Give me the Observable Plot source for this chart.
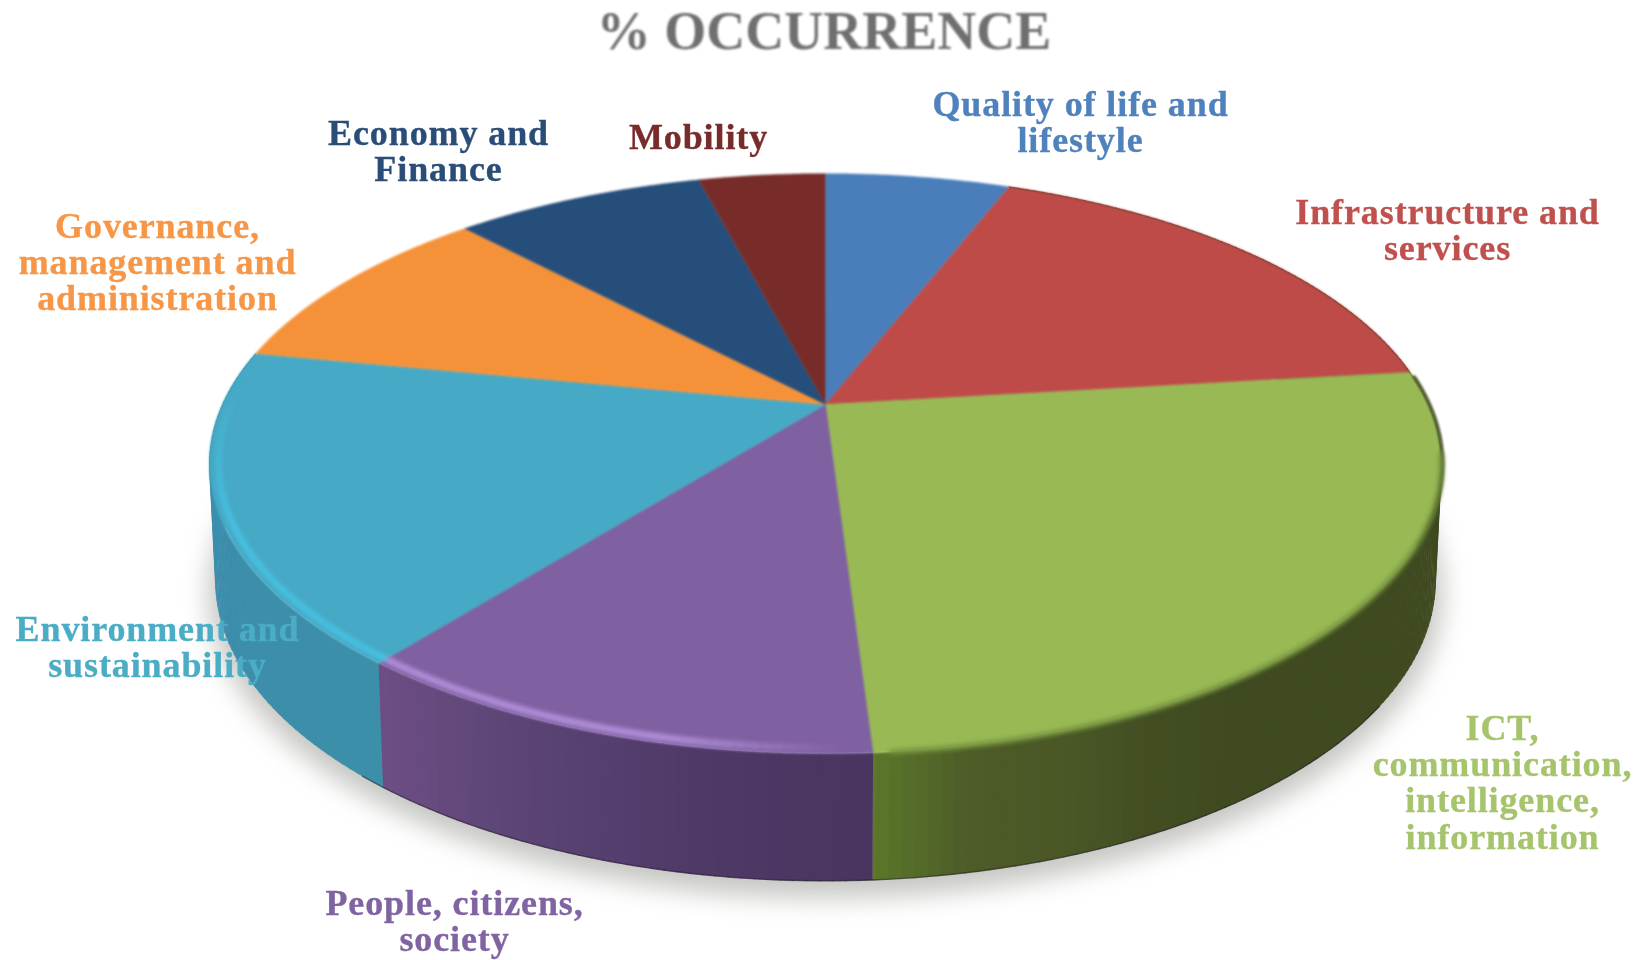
<!DOCTYPE html>
<html>
<head>
<meta charset="utf-8">
<script src="https://cdn.jsdelivr.net/npm/d3@7"></script>
<script src="https://cdn.jsdelivr.net/npm/@observablehq/plot@0.6"></script>
<style>
  html, body { margin: 0; padding: 0; background: #fff; overflow: hidden; }
  #title { height: 60px; text-align: center; font: bold 54px/62px "Liberation Serif", serif;
           color: #6f6f6f; filter: blur(0.8px); width: 1648px; }
  svg { display: block; }
</style>
</head>
<body>
<div id="title">% OCCURRENCE</div>
<div id="chart"></div>
<script>
// ---- data ----
const categories = ["Quality of life and lifestyle", "Infrastructure and services",
  "ICT, communication, intelligence, information", "People, citizens, society",
  "Environment and sustainability", "Governance, management and administration",
  "Economy and Finance", "Mobility"];
const shares = [5.9, 17.2, 25.9, 11.7, 17.35, 9.9, 8.0, 4.05];

// ---- styles ----
const faceColors = ["#4a7ebb", "#be4b48", "#98b954", "#7f60a0", "#46a9c5", "#f59239", "#264e7b", "#772c2a"];
const textColors = ["#4f81bd", "#c0504d", "#a6c46c", "#8064a2", "#4bacc6", "#f79646", "#2a4d78", "#772c2a"];
const labelLines = ["Quality of life and\nlifestyle", "Infrastructure and\nservices",
  "ICT,\ncommunication,\nintelligence,\ninformation", "People, citizens,\nsociety",
  "Environment and\nsustainability", "Governance,\nmanagement and\nadministration",
  "Economy and\nFinance", "Mobility"];
const labelX = [1080, 1447, 1502, 454, 157, 157, 438, 698];
const labelY = [122, 230, 782, 921, 647, 262, 151, 137];
const wallRamps = {
  1: ["#333d1a", "#333d1a"],
  2: ["#3a4420", "#3f4a20", "#3f4a20", "#3f4a20", "#3f4a20", "#3f4a20", "#3f4a20", "#3f4a20", "#3f4a20", "#424e22", "#4a5726", "#4e5c28", "#5c7a2a"],
  3: ["#4a3560", "#4f3a68", "#5c4576", "#6f4e85"],
  4: ["#3c8fa9", "#3c8dab", "#3d92b2"]
};
const highlights = { 3: "#b08dd8", 4: "#47bfe0" };

// ---- camera of the disc ----
const tilt = 0.2043;
const levels = [
  { xf: 603, yf: 278, cy: 404 },
  { xf: 597, yf: 287.5, cy: 519 }
];
const cx = 825;
const titleH = 60, W = 1646, H = 960;

function project(t, r, level) {
  const xf = levels[0].xf + (levels[1].xf - levels[0].xf) * level;
  const yf = levels[0].yf + (levels[1].yf - levels[0].yf) * level;
  const cy = levels[0].cy + (levels[1].cy - levels[0].cy) * level;
  const X = r * Math.sin(t), Y = r * Math.cos(t), w = 1 + tilt * Y;
  return { x: cx + xf * X / w, y: cy - yf * Y / w };
}
const rad = d => d * Math.PI / 180;

const total = d3.sum(shares);
let acc = 0;
const slices = shares.map((v, i) => {
  const a0 = acc / total * 360; acc += v;
  return { i, a0, a1: acc / total * 360 };
});

// top face polygons
const facePts = slices.flatMap(s => {
  const pts = [{ ...project(0, 0, 0), i: s.i, color: faceColors[s.i] }];
  for (let a = s.a0; a < s.a1; a += 0.5) pts.push({ ...project(rad(a), 1, 0), i: s.i, color: faceColors[s.i] });
  pts.push({ ...project(rad(s.a1), 1, 0), i: s.i, color: faceColors[s.i] });
  return pts;
});

// wall strips, back to front
const wallPts = [];
slices.forEach(s => {
  const ramp = wallRamps[s.i];
  if (!ramp) return;
  const col = d3.scaleLinear().domain(d3.range(ramp.length).map(j => j / (ramp.length - 1))).range(ramp).interpolate(d3.interpolateRgb);
  for (let a = s.a0; a < s.a1; a += 1) {
    const b = Math.min(a + 1.15, s.a1), f = (a - s.a0) / (s.a1 - s.a0), color = col(f), id = s.i + "-" + a;
    [project(rad(a), 1, 0), project(rad(b), 1, 0), project(rad(b), 1, 1), project(rad(a), 1, 1)]
      .forEach(p => wallPts.push({ ...p, id, color }));
  }
});

// soft shadow below the disc
const shadowPts = d3.range(0, 361, 2).map(a => project(rad(a), 1.012, 1.09));
const bottomEdge = d3.range(125, 222, 1).map(a => project(rad(a), 1, 1));

// darker outline along the right of the rim, soft green edge above the wall
const rimDark = d3.range(slices[1].a1 + 1, 118, 1).map(a => project(rad(a), 1.002, 0));
const rimSoft = d3.range(100, slices[2].a1 - 0.5, 1).map(a => project(rad(a), 1, 0));

// bevel highlight on the rim, fading at its two ends
const fade = d3.scaleLinear().domain([178, 192, 245, 275]).range([0, 1, 1, 0]).clamp(true);
const highlightPts = Object.keys(highlights).flatMap(k => {
  const s = slices[+k];
  return d3.range(s.a0, s.a1 - 0.5, 1).flatMap(a => [a, a + 1.1].map(b => ({
    ...project(rad(Math.min(b, s.a1)), 0.986, 0), seg: k + "-" + a, color: highlights[k], op: fade(a)
  })));
});

const labels = categories.map((c, i) => ({ name: labelLines[i], x: labelX[i], y: labelY[i], color: textColors[i] }));

const chart = Plot.plot({
  width: W, height: H - titleH,
  marginTop: 0, marginRight: 0, marginBottom: 0, marginLeft: 0,
  x: { domain: [0, W], range: [0, W], axis: null },
  y: { domain: [titleH, H], range: [0, H - titleH], axis: null },
  color: { type: "identity" },
  opacity: { type: "identity" },
  style: { background: "#fff", overflow: "hidden", letterSpacing: "0.9px" },
  marks: [
    Plot.line(shadowPts, { x: "x", y: "y", fill: "#8b8b86", stroke: "none", fillOpacity: 0.5, imageFilter: "blur(13px)" }),
    Plot.line(wallPts, { x: "x", y: "y", z: "id", fill: "color", stroke: "color", strokeWidth: 0.6, imageFilter: "blur(0.5px)" }),
    Plot.line(bottomEdge, { x: "x", y: "y", stroke: "#1d1526", strokeWidth: 1.4, strokeOpacity: 0.5, imageFilter: "blur(0.5px)" }),
    Plot.line(facePts, { x: "x", y: "y", z: "i", fill: "color", stroke: "color", strokeWidth: 0.5, imageFilter: "blur(0.8px)" }),
    Plot.line(rimDark, { x: "x", y: "y", stroke: "#3f4a20", strokeWidth: 3, imageFilter: "blur(1px)" }),
    Plot.line(rimSoft, { x: "x", y: "y", stroke: "#73903d", strokeWidth: 5, imageFilter: "blur(2.2px)" }),
    Plot.line(highlightPts, { x: "x", y: "y", z: "seg", stroke: "color", strokeOpacity: "op", strokeWidth: 7, strokeLinecap: "butt", imageFilter: "blur(2.2px)" }),
    Plot.text(labels, { x: "x", y: "y", text: "name", fill: "color", stroke: "color", strokeWidth: 0.35, fontFamily: "Liberation Serif", fontWeight: "bold",
      fontSize: 36, lineHeight: 1.01, lineAnchor: "middle", textAnchor: "middle", imageFilter: "blur(0.7px)" })
  ]
});
document.getElementById("chart").append(chart);
</script>
</body>
</html>
